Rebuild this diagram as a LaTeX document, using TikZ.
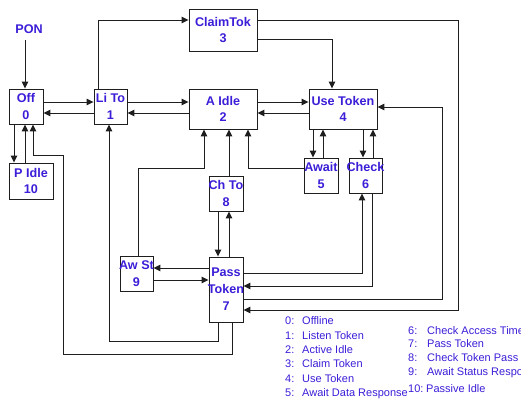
\documentclass[tikz,border=0pt]{standalone}
\usepackage{fontspec}
\setmainfont{Liberation Sans}
\usetikzlibrary{arrows.meta}
\definecolor{txt}{RGB}{58,30,216}
\definecolor{ln}{RGB}{30,30,30}
\begin{document}
\begin{tikzpicture}[x=1pt,y=-1pt,
  box/.style={draw=ln,line width=0.9pt,inner sep=0pt,fill=white},
  lbl/.style={font=\bfseries\fontsize{12.6}{16.5}\selectfont,text=txt,align=center,inner sep=0pt},
  conn/.style={draw=ln,line width=0.95pt,-{Triangle[length=7pt,width=6.5pt]}},
  leg/.style={font=\fontsize{11}{12}\selectfont,text=txt,anchor=west,inner sep=0pt}]
\useasboundingbox (0,0) rectangle (521,399);
% boxes
\node[box,minimum width=34pt,minimum height=35pt,label={[lbl]center:Off\\0}] (off) at (26,106.5) {};
\node[box,minimum width=33pt,minimum height=35pt,label={[lbl]center:Li To\\1}] (lito) at (110.5,106.5) {};
\node[box,minimum width=44pt,minimum height=36pt,label={[lbl]center:P Idle\\10}] (pidle) at (31,181) {};
\node[box,minimum width=68pt,minimum height=40pt,label={[lbl]center:A Idle\\2}] (aidle) at (223,109) {};
\node[box,minimum width=68pt,minimum height=42pt,label={[lbl]center:ClaimTok\\3}] (claim) at (223,30) {};
\node[box,minimum width=68pt,minimum height=40pt,label={[lbl]center:Use Token\\4}] (use) at (343,109) {};
\node[box,minimum width=34pt,minimum height=35pt,label={[lbl]center:Await\\5}] (await) at (321,175.5) {};
\node[box,minimum width=33pt,minimum height=35pt,label={[lbl]center:Check\\6}] (check) at (365.5,175.5) {};
\node[box,minimum width=34pt,minimum height=35pt,label={[lbl]center:Ch To\\8}] (chto) at (226,193.5) {};
\node[box,minimum width=34pt,minimum height=65pt,label={[lbl,font=\bfseries\fontsize{12.6}{17}\selectfont]center:Pass\\Token\\7}] (pass) at (226,289.5) {};
\node[box,minimum width=33pt,minimum height=35pt,label={[lbl]center:Aw St\\9}] (awst) at (136.5,273.5) {};
\node[lbl] (pon) at (29,29) {PON};
% connectors
\draw[conn] (25,40) -- (off.north -| 25,0);
\draw[conn] (off.east |- 0,102) -- (lito.west |- 0,102);
\draw[conn] (lito.west |- 0,113) -- (off.east |- 0,113);
\draw[conn] (lito.east |- 0,102) -- (aidle.west |- 0,102);
\draw[conn] (aidle.west |- 0,113) -- (lito.east |- 0,113);
\draw[conn] (aidle.east |- 0,102) -- (use.west |- 0,102);
\draw[conn] (use.west |- 0,113) -- (aidle.east |- 0,113);
\draw[conn] (lito.north -| 98,0) |- (claim.west |- 0,20);
\draw[conn] (claim.east |- 0,39) -| (use.north -| 332,0);
\draw[conn] (claim.east |- 0,20) -- (458,20) |- (pass.east |- 0,310);
\draw[conn] (pass.east |- 0,299) -- (442,299) |- (use.east |- 0,107);
\draw[conn] (use.south -| 313,0) -- (await.north -| 313,0);
\draw[conn] (await.north -| 323,0) -- (use.south -| 323,0);
\draw[conn] (use.south -| 363,0) -- (check.north -| 363,0);
\draw[conn] (check.north -| 373,0) -- (use.south -| 373,0);
\draw[conn] (await.west |- 0,168) -| (aidle.south -| 248,0);
\draw[conn] (chto.north -| 229,0) -- (aidle.south -| 229,0);
\draw[conn] (awst.north -| 138,0) -- (138,168) -| (aidle.south -| 204,0);
\draw[conn] (chto.south -| 218,0) -- (pass.north -| 218,0);
\draw[conn] (pass.north -| 229,0) -- (chto.south -| 229,0);
\draw[conn] (pass.west |- 0,268) -- (awst.east |- 0,268);
\draw[conn] (awst.east |- 0,280) -- (pass.west |- 0,280);
\draw[conn] (pass.east |- 0,273) -| (check.south -| 362,0);
\draw[conn] (check.south -| 372,0) |- (pass.east |- 0,286);
\draw[conn] (pass.south -| 218,0) -- (218,341) -| (lito.south -| 109,0);
\draw[conn] (pass.south -| 232,0) -- (232,354) -| (63,155) -| (off.south -| 33,0);
\draw[conn] (pidle.north -| 25,0) -- (off.south -| 25,0);
\draw[conn] (off.south -| 14,0) -- (pidle.north -| 14,0);
% legend
\node[leg] (l0) at (285,321) {\makebox[17pt][l]{0:}Offline};
\node[leg] (l1) at (285,336) {\makebox[17pt][l]{1:}Listen Token};
\node[leg] (l2) at (285,350) {\makebox[17pt][l]{2:}Active Idle};
\node[leg] (l3) at (285,364) {\makebox[17pt][l]{3:}Claim Token};
\node[leg] (l4) at (285,379) {\makebox[17pt][l]{4:}Use Token};
\node[leg] (l5) at (285,394) {\makebox[17pt][l]{5:}Await Data Response};
\node[leg] (l6) at (408,331) {\makebox[19pt][l]{6:}Check Access Timer};
\node[leg] (l7) at (408,344) {\makebox[19pt][l]{7:}Pass Token};
\node[leg] (l8) at (408,358) {\makebox[19pt][l]{8:}Check Token Pass};
\node[leg] (l9) at (408,373) {\makebox[19pt][l]{9:}Await Status Response};
\node[leg] (l10) at (408,389) {\makebox[18pt][l]{10:}Passive Idle};
\end{tikzpicture}
\end{document}
